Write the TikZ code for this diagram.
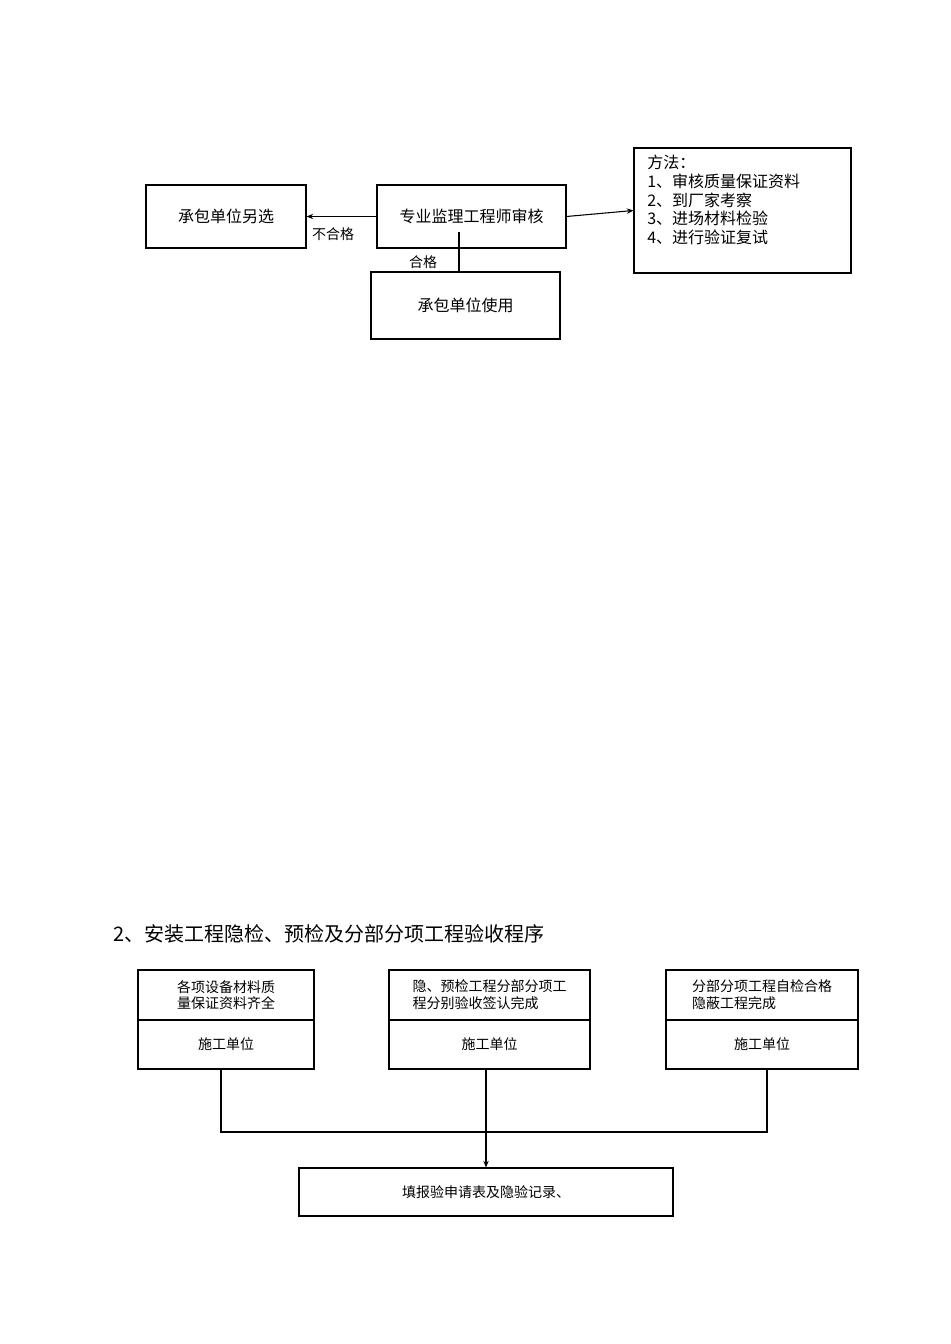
\documentclass[tikz,border=0pt]{standalone}
\usepackage{fontspec}
\setmainfont{Liberation Serif}
\newfontfamily\cjk{Noto Sans CJK SC}
\usetikzlibrary{arrows.meta}
\begin{document}
\begin{tikzpicture}[x=0.75pt,y=-0.75pt,
  box/.style={draw,line width=0.8pt,inner sep=0pt},
  lab/.style={font=\cjk\fontsize{12}{14}\selectfont},
  sm/.style={font=\cjk\fontsize{10.5}{12.5}\selectfont},
  arr/.style={-{Stealth[length=5pt,width=4pt]},line width=0.8pt},
  ln/.style={line width=0.8pt}]
\useasboundingbox (0,0) rectangle (950,1344);
\node[box,minimum width=160*0.75pt,minimum height=63*0.75pt,lab] (alt) at (226,216.5) {承包单位另选};
\node[box,minimum width=189*0.75pt,minimum height=63*0.75pt,lab] (rev) at (471.5,216.5) {专业监理工程师审核};
\node[box,minimum width=217*0.75pt,minimum height=125*0.75pt] (meth) at (742.5,210.5) {};
\node[lab,anchor=north west,align=left,inner sep=0pt] (mt) at (647,155) {方法：\\1、审核质量保证资料\\2、到厂家考察\\3、进场材料检验\\4、进行验证复试};
\node[box,minimum width=189*0.75pt,minimum height=67*0.75pt,lab] (use) at (465.5,305.5) {承包单位使用};
\draw[arr] (rev.west) -- (alt.east);
\draw[arr] (rev.east) -- (meth.west);
\coordinate (c1) at (459,232);
\coordinate (c2) at (459,272);
\draw[ln] (c1) -- (c2);
\node[sm] (ng) at (333,234) {不合格};
\node[sm] (ok) at (423,262) {合格};
\node[anchor=west,inner sep=0pt,font=\cjk\fontsize{15}{17}\selectfont] (title) at (113,934) {2、安装工程隐检、预检及分部分项工程验收程序};
% three boxes
\foreach \n/\a/\b/\t in {b1/138/314/{各项设备材料质\\量保证资料齐全},b2/389/590/{隐、预检工程分部分项工\\程分别验收签认完成},b3/666/858/{分部分项工程自检合格\\隐蔽工程完成}}{
  \node[box,minimum width={(\b-\a)*0.75pt},minimum height=50*0.75pt,sm,align=left] (\n t) at ({(\a+\b)/2},995) {\t};
  \node[box,minimum width={(\b-\a)*0.75pt},minimum height=49*0.75pt,sm] (\n b) at ({(\a+\b)/2},1044.5) {施工单位};
}
\node[box,minimum width=374*0.75pt,minimum height=48*0.75pt,sm] (fill) at (486,1192) {填报验申请表及隐验记录、};
\coordinate (j1) at (221,1132);
\coordinate (j3) at (767,1132);
\draw[ln] (b1b.south -| j1) -- (j1) -- (j3) -- (b3b.south -| j3);
\draw[arr] (b2b.south -| fill.north) -- (fill.north);
\end{tikzpicture}
\end{document}
